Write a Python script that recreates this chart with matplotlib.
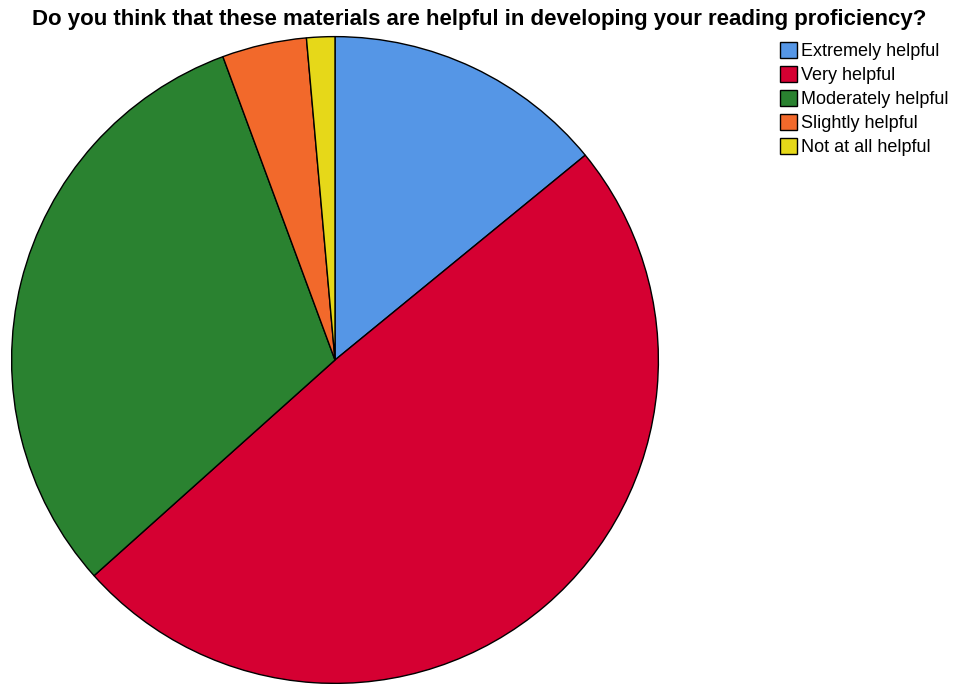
import matplotlib
matplotlib.use("Agg")
import matplotlib.pyplot as plt
from matplotlib.patches import Patch

categories = ["Extremely helpful", "Very helpful", "Moderately helpful",
              "Slightly helpful", "Not at all helpful"]
counts = [10, 35, 22, 3, 1]
colors = ["#5596E6", "#D50032", "#2A8230", "#F2692B", "#E6D819"]
title = "Do you think that these materials are helpful in developing your reading proficiency?"

W, H = 954, 684
fig = plt.figure(figsize=(W / 100, H / 100), dpi=100)
fig.patch.set_facecolor("white")

ax = fig.add_axes([10 / W, (H - 685) / H, 650 / W, 650 / H])
ax.pie(counts, colors=colors, startangle=90, counterclock=False, radius=1,
       wedgeprops=dict(edgecolor="black", linewidth=1.0))
ax.set_xlim(-1.005, 1.005)
ax.set_ylim(-1.005, 1.005)
ax.set_aspect("equal")
ax.axis("off")

fig.text(479 / W, 1 - 19 / H, title, ha="center", va="center",
         fontsize=16, fontweight="bold", family="Liberation Sans")

handles = [Patch(facecolor=c, edgecolor="black", linewidth=1.0) for c in colors]
leg = fig.legend(handles, categories, loc="upper left",
                 bbox_to_anchor=(778 / W, 1 - 40 / H), frameon=False,
                 prop=dict(family="Liberation Sans", size=13),
                 handlelength=0.95, handleheight=1.0, handletextpad=0.25,
                 labelspacing=0.32, borderaxespad=0, borderpad=0.1)

fig.savefig("out.png", dpi=100, facecolor="white")
